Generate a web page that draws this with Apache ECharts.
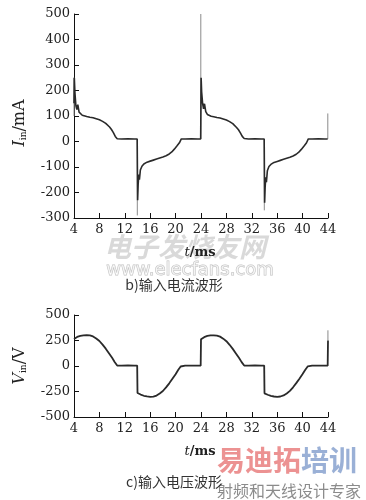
<!DOCTYPE html>
<html><head><meta charset="utf-8">
<script src="https://cdn.jsdelivr.net/npm/echarts@6/dist/echarts.min.js"></script>
<style>html,body{margin:0;padding:0;background:#fff}#c{width:366px;height:500px}</style>
</head><body><div id="c"></div><script>
// ---- data ----
var xTicks = [4, 8, 12, 16, 20, 24, 28, 32, 36, 40, 44];
var currentTicks = [-300, -200, -100, 0, 100, 200, 300, 400, 500];
var voltageTicks = [-500, -250, 0, 250, 500];

var currentT = [4.0,4.05,4.15,4.3,4.45,4.6,4.8,5.0,5.3,5.6,6.0,6.5,7.0,7.5,8.0,8.5,9.0,9.3,9.6,9.9,10.2,10.5,10.8,11.5,12.5,13.5,13.95,
  14.02,14.1,14.2,14.3,14.45,14.7,15.0,15.5,16.0,16.5,17.0,17.5,18.0,18.5,19.0,19.4,19.8,20.2,20.6,20.9,21.5,22.5,23.5,23.95,
  24.02,24.1,24.25,24.4,24.55,24.75,25.0,25.3,25.6,26.0,26.5,27.0,27.5,28.0,28.5,29.0,29.3,29.6,29.9,30.2,30.5,30.8,31.5,32.5,33.5,33.95,
  34.02,34.1,34.2,34.3,34.45,34.7,35.0,35.5,36.0,36.5,37.0,37.5,38.0,38.5,39.0,39.4,39.8,40.2,40.6,40.9,41.5,42.5,43.5,43.95];
var currentV = [150,250,190,140,125,145,115,108,103,100,98,95,93,89,85,79,71,64,57,47,35,20,11,10,11,10,10,
  -230,-170,-130,-150,-112,-97,-88,-81,-77,-73,-69,-65,-61,-56,-49,-41,-30,-18,-5,10,10,11,10,10,
  250,195,150,128,148,117,106,102,99,97,94,92,88,84,78,70,63,55,46,34,20,12,10,11,10,10,
  -240,-180,-140,-160,-115,-98,-90,-82,-78,-74,-70,-66,-62,-57,-50,-42,-31,-19,-6,10,10,11,10,10];

var spikeT  = [4.0, 13.97, 23.97, 33.97, 43.97];
var spikeLo = [100, -290, 10, -270, 10];
var spikeHi = [250, 10, 500, 10, 110];

var voltageT = [4.0,4.5,5.0,5.5,6.0,6.5,7.0,7.5,8.0,8.5,9.0,9.5,10.0,10.4,10.8,11.5,12.5,13.5,13.95,
  14.0,14.5,15.0,15.5,16.0,16.5,17.0,17.5,18.0,18.5,19.0,19.5,20.0,20.4,20.8,21.5,22.5,23.5,23.95,
  24.0,24.5,25.0,25.5,26.0,26.5,27.0,27.5,28.0,28.5,29.0,29.5,30.0,30.4,30.8,31.5,32.5,33.5,33.95,
  34.0,34.5,35.0,35.5,36.0,36.5,37.0,37.5,38.0,38.5,39.0,39.5,40.0,40.4,40.8,41.5,42.5,43.5,43.95,44.0];
var voltageV = [265,285,295,300,302,300,290,270,245,210,170,125,80,40,5,3,5,3,4,
  -265,-280,-292,-298,-302,-300,-290,-270,-245,-210,-170,-125,-80,-40,-5,3,4,3,3,
  262,283,295,300,301,298,288,268,243,208,168,123,78,38,4,3,5,3,4,
  -268,-282,-293,-299,-302,-299,-289,-269,-244,-209,-168,-124,-79,-39,-4,3,4,3,3,250];
var vSpikeT = [43.99], vSpikeLo = [250], vSpikeHi = [350];

function zip(a, b) { return a.map(function (v, i) { return [v, b[i]]; }); }

var serif = 'DejaVu Serif';
var axisCommon = {
  axisLine: { show: true, onZero: false, lineStyle: { color: '#111', width: 1 } },
  axisTick: { show: true, inside: true, length: 5, lineStyle: { color: '#111' } },
  axisLabel: { color: '#222', fontFamily: serif, fontSize: 13, margin: 4 },
  splitLine: { show: false }
};
function xAxis(gi) {
  return Object.assign({ type: 'value', gridIndex: gi, min: 4, max: 44, interval: 4 }, JSON.parse(JSON.stringify(axisCommon)),
    { axisLabel: { color: '#222', fontFamily: serif, fontSize: 13, margin: 5 } });
}

var series = [];
series.push({ type: 'line', xAxisIndex: 0, yAxisIndex: 0, data: zip(currentT, currentV), showSymbol: false,
  lineStyle: { color: '#2a2a2a', width: 1.6 }, animation: false, z: 3 });
spikeT.forEach(function (t, i) {
  series.push({ type: 'line', xAxisIndex: 0, yAxisIndex: 0, data: [[t, spikeLo[i]], [t, spikeHi[i]]], showSymbol: false,
    lineStyle: { color: '#8a8a8a', width: 1 }, animation: false, z: 2 });
});
series.push({ type: 'line', xAxisIndex: 1, yAxisIndex: 1, data: zip(voltageT, voltageV), showSymbol: false,
  lineStyle: { color: '#2a2a2a', width: 1.8 }, animation: false, z: 3 });
vSpikeT.forEach(function (t, i) {
  series.push({ type: 'line', xAxisIndex: 1, yAxisIndex: 1, data: [[t, vSpikeLo[i]], [t, vSpikeHi[i]]], showSymbol: false,
    lineStyle: { color: '#8a8a8a', width: 1 }, animation: false, z: 2 });
});

var chart = echarts.init(document.getElementById('c'), null, { renderer: 'canvas' });
chart.setOption({
  backgroundColor: '#fff',
  animation: false,
  grid: [
    { left: 74, right: 38, top: 14, height: 204 },
    { left: 74, right: 38, top: 315, height: 102 }
  ],
  xAxis: [xAxis(0), xAxis(1)],
  yAxis: [
    Object.assign({ type: 'value', gridIndex: 0, min: currentTicks[0], max: currentTicks[currentTicks.length - 1], interval: 100 }, JSON.parse(JSON.stringify(axisCommon))),
    Object.assign({ type: 'value', gridIndex: 1, min: voltageTicks[0], max: voltageTicks[voltageTicks.length - 1], interval: 250 }, JSON.parse(JSON.stringify(axisCommon)))
  ],
  series: series,
  graphic: [
    { type: 'text', x: 20, y: 123, rotation: Math.PI / 2, style: {
        text: '{i|I}{s|in}{n|/mA}', align: 'center', verticalAlign: 'middle',
        rich: { i: { fontFamily: serif, fontStyle: 'italic', fontSize: 16, fill: '#222' },
                s: { fontFamily: serif, fontSize: 9, fill: '#222', padding: [8, 0, 0, 0] },
                n: { fontFamily: serif, fontSize: 16, fill: '#222' } } } },
    { type: 'text', x: 20, y: 366, rotation: Math.PI / 2, style: {
        text: '{i|V}{s|in}{n|/V}', align: 'center', verticalAlign: 'middle',
        rich: { i: { fontFamily: serif, fontStyle: 'italic', fontSize: 16, fill: '#222' },
                s: { fontFamily: serif, fontSize: 9, fill: '#222', padding: [8, 0, 0, 0] },
                n: { fontFamily: serif, fontSize: 16, fill: '#222' } } } },
    // watermarks
    { type: 'text', x: 185, y: 247, z: 1, style: { text: '电子发烧友网', align: 'center', verticalAlign: 'middle',
        fontFamily: 'Noto Sans CJK SC', fontWeight: 'bold', fontStyle: 'italic', fontSize: 27, fill: 'rgba(170,170,170,0.45)' } },
    { type: 'text', x: 190, y: 270, z: 1, style: { text: 'www.elecfans.com', align: 'center', verticalAlign: 'middle',
        fontFamily: 'DejaVu Sans', fontSize: 18, fill: 'rgba(255,255,255,0.6)', stroke: 'rgba(150,150,150,0.6)', lineWidth: 1 } },
    { type: 'text', x: 200, y: 253, z: 10, style: {
        text: '{i|t}{n|/ms}', align: 'center', verticalAlign: 'middle',
        rich: { i: { fontFamily: serif, fontStyle: 'italic', fontSize: 13, fill: '#222' },
                n: { fontFamily: serif, fontWeight: 'bold', fontSize: 13, fill: '#222' } } } },
    { type: 'text', x: 174, y: 285, z: 10, style: { text: 'b)输入电流波形', align: 'center', verticalAlign: 'middle',
        fontFamily: 'Noto Sans CJK SC', fontSize: 14, fill: '#333' } },
    { type: 'text', x: 200, y: 452, z: 10, style: {
        text: '{i|t}{n|/ms}', align: 'center', verticalAlign: 'middle',
        rich: { i: { fontFamily: serif, fontStyle: 'italic', fontSize: 13, fill: '#222' },
                n: { fontFamily: serif, fontWeight: 'bold', fontSize: 13, fill: '#222' } } } },
    { type: 'text', x: 287, y: 460, z: 5, style: {
        text: '{r|易迪拓}{b|培训}', align: 'center', verticalAlign: 'middle',
        rich: { r: { fontFamily: 'Noto Sans CJK SC', fontWeight: 'bold', fontSize: 28, fill: 'rgba(230,110,110,0.75)' },
                b: { fontFamily: 'Noto Sans CJK SC', fontWeight: 'bold', fontSize: 28, fill: 'rgba(120,150,200,0.75)' } } } },
    { type: 'text', x: 289, y: 491, z: 5, style: { text: '射频和天线设计专家', align: 'center', verticalAlign: 'middle',
        fontFamily: 'Noto Sans CJK SC', fontSize: 16, fill: 'rgba(110,110,110,0.8)' } },
    { type: 'text', x: 174, y: 482, z: 10, style: { text: 'c)输入电压波形', align: 'center', verticalAlign: 'middle',
        fontFamily: 'Noto Sans CJK SC', fontSize: 14, fill: '#333' } }
  ]
});
</script></body></html>
